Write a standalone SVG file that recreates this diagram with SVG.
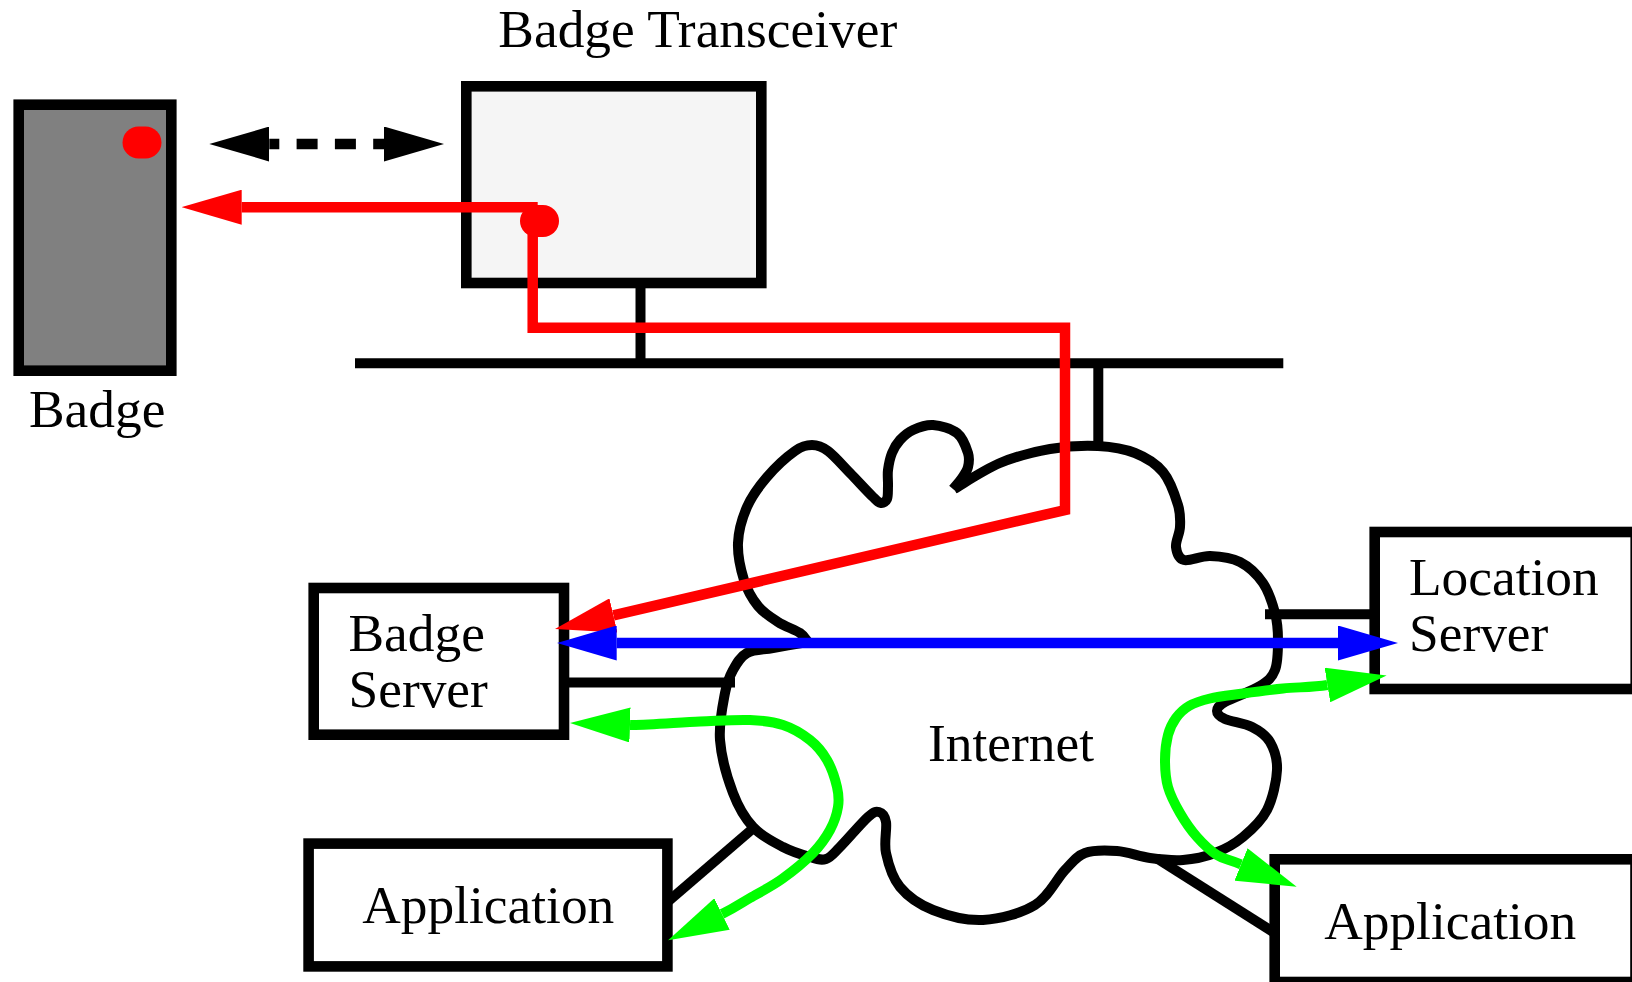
<svg xmlns="http://www.w3.org/2000/svg" width="1632" height="982" viewBox="0 0 1632 982">
<style>
.box{stroke:#000;stroke-width:10.6;}
.ln{stroke:#000;stroke-width:10;fill:none;}
.t{font-family:"Liberation Serif","Times New Roman",serif;font-size:53.4px;fill:#000;}
.red{stroke:#ff0000;stroke-width:10.5;fill:none;}
.blue{stroke:#0000ff;stroke-width:10.5;fill:none;}
.green{stroke:#00ff00;stroke-width:10;fill:none;}
</style>
<defs>
<marker id="ak" markerUnits="userSpaceOnUse" markerWidth="60" markerHeight="35" viewBox="0 0 60 35" refX="0" refY="17.5" orient="auto-start-reverse"><path d="M0,0 L60,17.5 L0,35 Z" fill="#000"/></marker>
<marker id="ar" markerUnits="userSpaceOnUse" markerWidth="60" markerHeight="35" viewBox="0 0 60 35" refX="0" refY="17.5" orient="auto-start-reverse"><path d="M0,0 L60,17.5 L0,35 Z" fill="#ff0000"/></marker>
<marker id="ab" markerUnits="userSpaceOnUse" markerWidth="60" markerHeight="35" viewBox="0 0 60 35" refX="0" refY="17.5" orient="auto-start-reverse"><path d="M0,0 L60,17.5 L0,35 Z" fill="#0000ff"/></marker>
<marker id="ag" markerUnits="userSpaceOnUse" markerWidth="60" markerHeight="35" viewBox="0 0 60 35" refX="0" refY="17.5" orient="auto-start-reverse"><path d="M0,0 L60,17.5 L0,35 Z" fill="#00ff00"/></marker>
</defs>
<rect width="1632" height="982" fill="#fff"/>

<g id="internet">
<path class="ln" d="M954,489 C961.7,484.7 984,469.7 1000,463 S1033.7,451.8 1050,449 S1083.8,445.3 1098,446 S1124.2,448.7 1135,453 S1155.8,463.3 1163,472 S1175.2,495.8 1178,505 S1180.3,520 1180,527 S1175.3,541.5 1176,547 S1178.3,558.5 1184,560 S1200.7,555.7 1210,556 S1231.2,557.5 1240,562 S1257.2,574.5 1263,583 S1272.5,603.5 1275,613 S1278,630.5 1278,640 S1278,662.3 1275,670 S1268.3,680.7 1260,686 S1232.2,697.8 1225,702 S1217,708.2 1217,711 S1219.2,716.3 1225,719 S1244.5,723.2 1252,727 S1265.8,734.8 1270,742 S1277.5,758.7 1277,770 S1272.7,798.8 1267,810 S1251.7,829.8 1243,837 S1225,849.2 1215,853 S1193.8,859.2 1183,860 S1161,859.5 1150,858 S1127.8,851.8 1117,851 S1093.7,849.8 1085,853 S1073.3,861.3 1065,870 S1048.7,896.7 1035,905 S1000,919.2 983,920 S946.8,915.5 933,910 S907.8,896.5 900,887 S888.3,863.8 886,853 S887.2,828.8 886,822 S882,812.8 879,812 S874.5,811.2 868,817 S847,840 840,847 S831,857.3 826,859 S817.2,859 810,857 S792.5,852 783,847 S761.3,836 753,827 S738.5,807.5 733,793 S721.3,756.7 720,740 S722.8,704.7 725,693 S729.3,676.7 733,670 S740.3,656.7 747,653 S762.8,649.8 773,648 S802.2,643 808,642 C806.7,640.5 805,636.3 800,633 S785,626.5 778,622 S763.7,613 758,606 S747.3,590.5 744,580 S737.5,555.2 738,543 S742.2,518 747,507 S759,486.3 767,477 S787.5,456.3 795,451 S806.5,445 812,445 S821.7,446.3 828,451 S842.5,465.3 850,473 S867.8,492 873,497 S878.7,502.7 881,503 S885.8,501.8 887,499 S887.8,490.8 888,486 S887.3,475.5 888,470 S890,458 892,453 S896.5,443.8 900,440 S907.5,432.5 913,430 S925.7,424.5 933,425 S951.2,428.3 957,433 S966.2,447.3 968,453 S969,462.8 968,467 S964.5,474.3 962,478 S954.5,487.2 953,489"/>
<text class="t" x="1011" y="761" text-anchor="middle">Internet</text>
</g>

<g id="badge">
<rect class="box" x="18.7" y="104.7" width="152.6" height="266" fill="#808080"/>
<line x1="138.5" y1="142.5" x2="145.5" y2="142.5" stroke="#ff0000" stroke-width="32" stroke-linecap="round"/>
<text class="t" x="29" y="426.7">Badge</text>
</g>

<g id="transceiver">
<rect class="box" x="466.3" y="86.3" width="295" height="196.7" fill="#f5f5f5"/>
<text class="t" x="697.8" y="46.7" text-anchor="middle">Badge Transceiver</text>
</g>

<g id="badge-server">
<rect class="box" x="313.7" y="588" width="250.3" height="146.7" fill="#fff"/>
<text class="t" x="348.5" y="650.7">Badge</text>
<text class="t" x="348.5" y="706.7">Server</text>
</g>

<g id="location-server">
<rect class="box" x="1374.7" y="532" width="261" height="157" fill="#fff"/>
<text class="t" x="1409" y="595">Location</text>
<text class="t" x="1409" y="651">Server</text>
</g>

<g id="application-left">
<rect class="box" x="308.6" y="843.6" width="358.8" height="122.8" fill="#fff"/>
<text class="t" x="488.3" y="923.3" text-anchor="middle">Application</text>
</g>

<g id="application-right">
<rect class="box" x="1274.7" y="859.3" width="360.8" height="122.7" fill="#fff"/>
<text class="t" x="1450.2" y="939.3" text-anchor="middle">Application</text>
</g>

<g id="connectors">
<line class="ln" x1="355" y1="363.3" x2="1283.3" y2="363.3"/>
<line class="ln" x1="640.5" y1="288" x2="640.5" y2="363.3"/>
<line class="ln" x1="1098.3" y1="363.3" x2="1098.3" y2="446"/>
<line class="ln" x1="569" y1="682.5" x2="735" y2="682.5"/>
<line class="ln" x1="1265" y1="614.3" x2="1370" y2="614.3"/>
<line class="ln" x1="666" y1="903.2" x2="755" y2="826.7"/>
<line class="ln" x1="1156.7" y1="858.3" x2="1274.7" y2="933"/>

<path d="M269.3,144 H384" stroke="#000" stroke-width="10.5" fill="none" stroke-dasharray="21 17.3" stroke-dashoffset="11" marker-start="url(#ak)" marker-end="url(#ak)"/>

<path class="red" d="M537.7,207.2 H241.7" marker-end="url(#ar)"/>
<path class="red" d="M532.7,221 V327.7 H1065 V510 L613.4,615.4" stroke-linejoin="miter" marker-end="url(#ar)"/>
<line x1="536" y1="221" x2="543" y2="221" stroke="#ff0000" stroke-width="32" stroke-linecap="round"/>

<path class="blue" d="M616.7,643 H1338" marker-start="url(#ab)" marker-end="url(#ab)"/>

<path class="green" d="M630,725 C645,725.5 680,722.3 700,721.5 S736.2,719.4 750,720 S773,721.7 783,725 S802.7,734.2 810,740 S822.5,752.2 827,760 S835.2,779.2 837,787 S839.2,799.8 838,807 S834.2,822.3 830,830 S821,844.8 813,853 S792.5,871.5 782,879 S760,892.2 750,898 S735.5,907.4 722,914" marker-start="url(#ag)" marker-end="url(#ag)"/>

<path class="green" d="M1327.4,685 C1312.6,687.4 1297.1,687.1 1283,688.5 S1255.2,691.8 1243,693.5 S1219,696.4 1210,698.5 S1194.7,702.7 1189,706 S1179.5,713.2 1176,718 S1169.8,728 1168,735 S1165,751.3 1165,760 S1165.5,778.2 1168,787 S1175.2,804.7 1180,813 S1190.8,830 1197,837 S1209.7,850.4 1217,855 S1227.1,858.8 1241,864.4" marker-start="url(#ag)" marker-end="url(#ag)"/>
</g>
</svg>
